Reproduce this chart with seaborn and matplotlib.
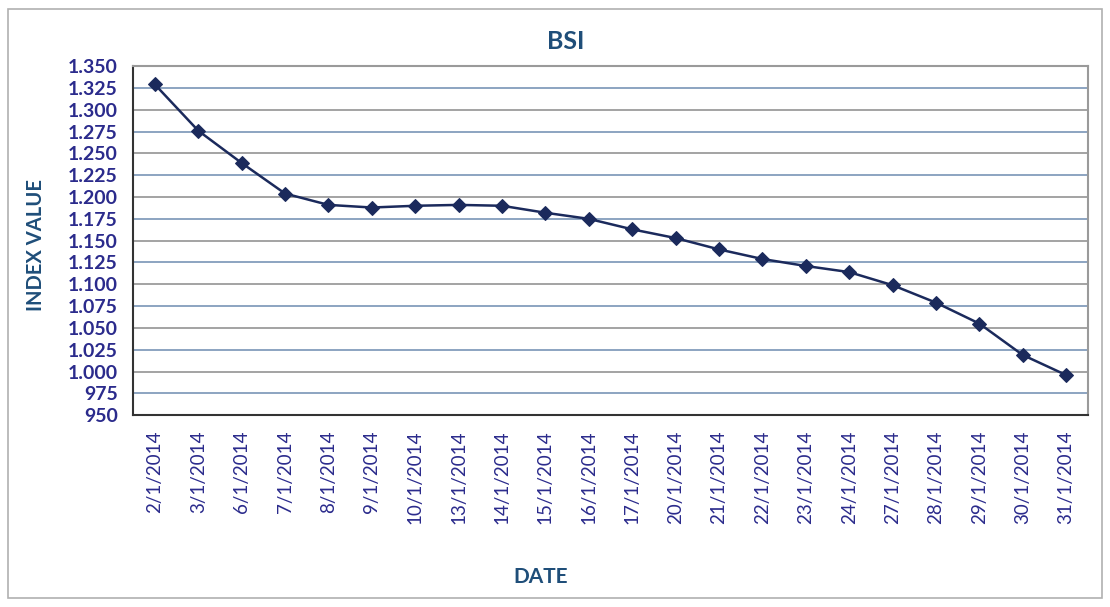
import numpy as np
import seaborn as sns
import matplotlib.pyplot as plt
from matplotlib.patches import Rectangle
from matplotlib.ticker import FuncFormatter, FixedLocator

sns.set_style("white")
plt.rcParams['font.family'] = ['Lato', 'DejaVu Sans']

# Data
dates = ['2/1/2014', '3/1/2014', '6/1/2014', '7/1/2014', '8/1/2014', '9/1/2014',
         '10/1/2014', '13/1/2014', '14/1/2014', '15/1/2014', '16/1/2014', '17/1/2014',
         '20/1/2014', '21/1/2014', '22/1/2014', '23/1/2014', '24/1/2014', '27/1/2014',
         '28/1/2014', '29/1/2014', '30/1/2014', '31/1/2014']
bsi = [1329, 1276, 1239, 1204, 1191, 1188, 1190, 1191, 1190, 1182, 1175, 1163,
       1153, 1140, 1129, 1121, 1114, 1099, 1079, 1055, 1019, 996]
y_ticks = list(range(950, 1351, 25))

navy = '#2B2B8C'
title_blue = '#1F4E79'

fig = plt.figure(figsize=(11.1, 6.07), dpi=100)
ax = fig.add_axes([0.12, 0.316, 0.86, 0.575])

x = np.arange(len(dates))
sns.lineplot(x=x, y=bsi, ax=ax, color='#1B2A5C', linewidth=1.8,
             marker='D', markersize=7.5, markeredgecolor='#1B2A5C')

ax.set_xlim(-0.5, len(dates) - 0.5)
ax.set_ylim(950, 1350)

# horizontal gridlines
for i, v in enumerate(y_ticks[1:-1]):
    ax.axhline(v, color='#6E8CB0' if i % 2 == 0 else '#8A8A8A', linewidth=1.1, zorder=0)

ax.yaxis.set_major_locator(FixedLocator(y_ticks))
ax.yaxis.set_major_formatter(FuncFormatter(
    lambda v, p: f"{int(v):,}".replace(',', '.')))
ax.set_xticks(x)
ax.set_xticklabels(dates, rotation=90, fontsize=13.5, color=navy)
ax.tick_params(axis='x', length=0, pad=11)
ax.xaxis.set_minor_locator(FixedLocator(np.arange(-0.5, len(dates), 1)))
ax.tick_params(axis='x', which='minor', length=6, width=1, color='#555555', direction='out')
ax.tick_params(axis='y', length=5, width=1, color='#555555', direction='out', pad=6,
               labelsize=14, labelcolor=navy)
for lbl in ax.get_yticklabels():
    lbl.set_fontweight('bold')

for side in ['left', 'bottom']:
    ax.spines[side].set_color('#333333')
    ax.spines[side].set_linewidth(1.5)
for side in ['top', 'right']:
    ax.spines[side].set_color('#9A9A9A')
    ax.spines[side].set_linewidth(1.5)

fig.text(0.51, 0.932, 'BSI', ha='center', va='center',
         fontsize=18, fontweight='bold', color=title_blue)
fig.text(0.032, 0.596, 'INDEX VALUE', rotation=90, ha='center', va='center',
         fontsize=14.5, fontweight='bold', color=title_blue)
fig.text(0.487, 0.05, 'DATE', ha='center', va='center',
         fontsize=15, fontweight='bold', color=title_blue)

# outer chart frame
fig.patches.append(Rectangle((0.007, 0.015), 0.986, 0.97, transform=fig.transFigure,
                             fill=False, edgecolor='#B0B0B0', linewidth=1.2))

fig.savefig('out.png', dpi=100)
